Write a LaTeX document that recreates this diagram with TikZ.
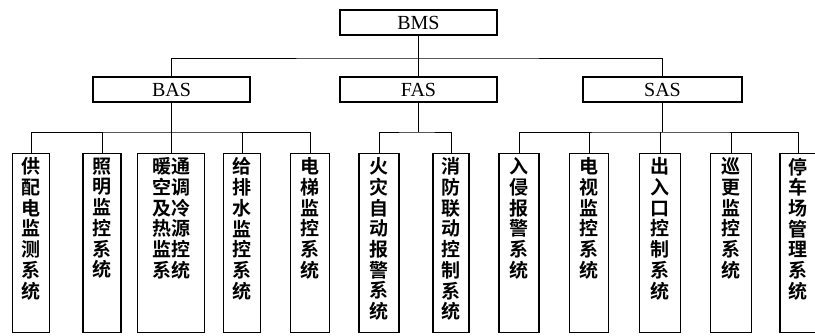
\documentclass[tikz,border=0pt]{standalone}
\usepackage{fontspec}
\setmainfont{Liberation Serif}
\newfontfamily\cjk{Noto Sans CJK SC}[UprightFont={* Bold}]
\newcommand\leaftext[2]{\parbox[t][179pt][t]{#1}{\centering\cjk\fontsize{19}{20.7}\selectfont\vspace*{4pt}#2\par}}
\begin{document}
\begin{tikzpicture}[x=1pt,y=-1pt,
  topbox/.style={draw,line width=1.5pt,minimum width=157pt,minimum height=25pt,inner sep=0pt,font=\fontsize{20}{21}\selectfont},
  leafbox/.style={draw,line width=1.5pt,inner sep=0pt,anchor=north},
  conn/.style={line width=0.8pt}]
\useasboundingbox (0,0) rectangle (815,336);
% top level
\node[topbox] (bms) at (418.5,22.5) {BMS};
\node[topbox] (bas) at (171.5,89.5) {BAS};
\node[topbox] (fas) at (418.5,89.5) {FAS};
\node[topbox,minimum width=159pt] (sas) at (662.5,89.5) {SAS};
\coordinate (j0) at (418.5,58);
\draw[conn] (bms.south) -- (fas.north);
\draw[conn] (bas.north) |- (j0) -| (sas.north);
% leaves
\node[leafbox] (l1) at (31,153) {\leaftext{37pt}{供\\配\\电\\监\\测\\系\\统}};
\node[leafbox] (l2) at (102,153) {\leaftext{38pt}{照\\明\\监\\控\\系\\统}};
\node[leafbox] (l3) at (171,153) {\leaftext{67pt}{暖通\\空调\\及冷\\热源\\监控\\系统}};
\node[leafbox] (l4) at (242,153) {\leaftext{37pt}{给\\排\\水\\监\\控\\系\\统}};
\node[leafbox] (l5) at (310,153) {\leaftext{39pt}{电\\梯\\监\\控\\系\\统}};
\node[leafbox] (l6) at (379,153) {\leaftext{40pt}{火\\灾\\自\\动\\报\\警\\系\\统}};
\node[leafbox] (l7) at (451,153) {\leaftext{36pt}{消\\防\\联\\动\\控\\制\\系\\统}};
\node[leafbox] (l8) at (519,153) {\leaftext{40pt}{入\\侵\\报\\警\\系\\统}};
\node[leafbox] (l9) at (589,153) {\leaftext{39pt}{电\\视\\监\\控\\系\\统}};
\node[leafbox] (l10) at (660,153) {\leaftext{41pt}{出\\入\\口\\控\\制\\系\\统}};
\node[leafbox] (l11) at (731,153) {\leaftext{41pt}{巡\\更\\监\\控\\系\\统}};
\node[leafbox] (l12) at (798,153) {\leaftext{36pt}{停\\车\\场\\管\\理\\系\\统}};
% BAS branch
\coordinate (jb) at (171.5,132);
\draw[conn] (bas.south) -- (jb);
\draw[conn] (l1.north) |- (jb) -| (l5.north);
\draw[conn] (l2.north) -- (l2.north |- jb);
\draw[conn] (l3.north) -- (l3.north |- jb);
\draw[conn] (l4.north) -- (l4.north |- jb);
% FAS branch
\coordinate (jf) at (418.5,132);
\draw[conn] (fas.south) -- (jf);
\draw[conn] (l6.north) |- (jf) -| (l7.north);
% SAS branch
\coordinate (js) at (662.5,132);
\draw[conn] (sas.south) -- (js);
\draw[conn] (l8.north) |- (js) -| (l12.north);
\draw[conn] (l9.north) -- (l9.north |- js);
\draw[conn] (l10.north) -- (l10.north |- js);
\draw[conn] (l11.north) -- (l11.north |- js);
\end{tikzpicture}
\end{document}
